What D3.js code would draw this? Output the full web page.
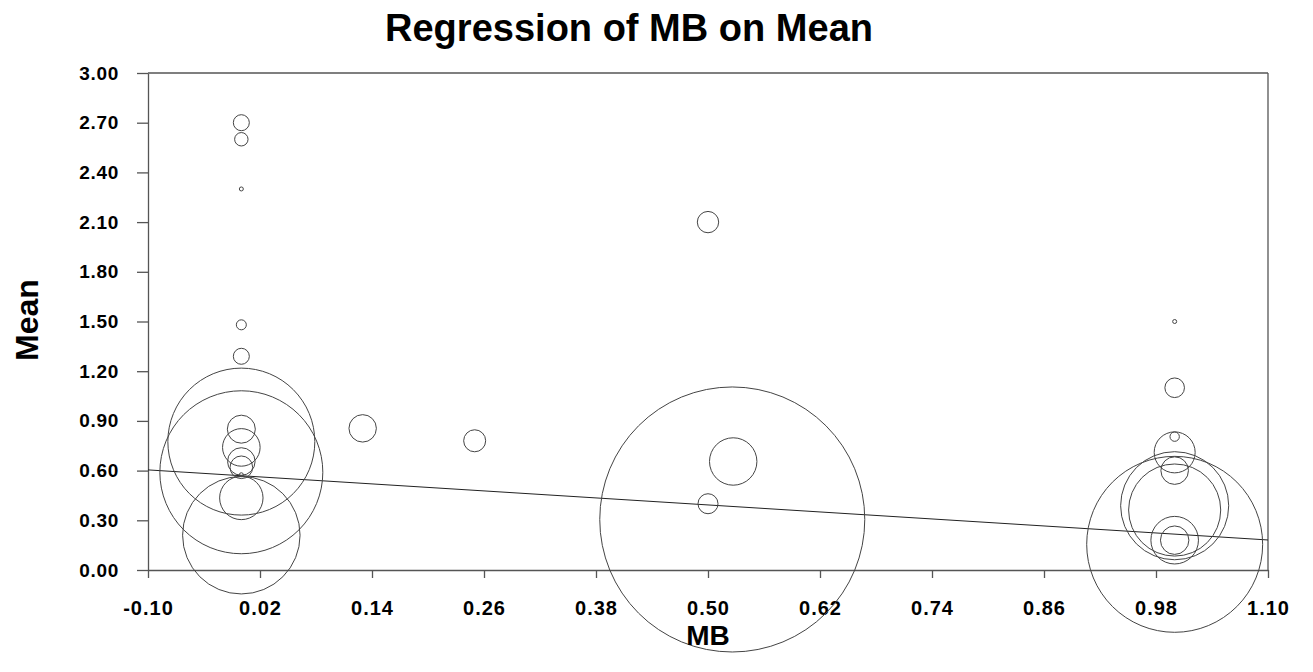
<!DOCTYPE html>
<html>
<head>
<meta charset="utf-8">
<script src="https://cdn.jsdelivr.net/npm/d3@7"></script>
<style>
  body { margin: 0; background: #fff; }
  text { font-family: "Liberation Sans", Arial, sans-serif; font-weight: bold; fill: #000; }
</style>
</head>
<body>
<script>
var svgWidth = 1313;
var svgHeight = 672;

var margin = { top: 73, right: 45, bottom: 102, left: 148 };
var width = svgWidth - margin.left - margin.right;
var height = svgHeight - margin.top - margin.bottom;

// data
var mbValues = [0.00, 0.00, 0.00, 0.00, 0.00, 0.00, 0.00, 0.00, 0.00, 0.00,
  0.00, 0.00, 0.00, 0.00, 0.13, 0.25, 0.50, 0.50, 0.527, 0.526,
  1.00, 1.00, 1.00, 1.00, 1.00, 1.00, 1.00, 1.00, 1.00, 1.00];
var meanValues = [2.70, 2.60, 2.30, 1.48, 1.29, 0.775, 0.59, 0.21, 0.85, 0.74,
  0.655, 0.62, 0.435, 0.575, 0.855, 0.78, 2.10, 0.40, 0.655, 0.305,
  1.50, 1.10, 0.805, 0.71, 0.60, 0.388, 0.362, 0.18, 0.18, 0.155];
var weights = [0.64, 0.45, 0.04, 0.25, 0.64, 54.0, 66.4, 34.5, 1.96, 3.53,
  1.90, 1.28, 4.71, 0.04, 1.88, 1.21, 1.14, 1.00, 5.62, 175.6,
  0.04, 0.96, 0.22, 4.20, 1.90, 29.2, 21.2, 5.66, 2.02, 77.4];

var xTicks = [-0.10, 0.02, 0.14, 0.26, 0.38, 0.50, 0.62, 0.74, 0.86, 0.98, 1.10];
var yTicks = [0.00, 0.30, 0.60, 0.90, 1.20, 1.50, 1.80, 2.10, 2.40, 2.70, 3.00];

// fitted line: Mean = a + b * MB
var intercept = 0.569;
var slope = -0.3525;

var points = mbValues.map(function(d, i) {
  return { mb: d, mean: meanValues[i], w: weights[i] };
});

var svg = d3.select("body")
  .append("svg")
  .attr("width", svgWidth)
  .attr("height", svgHeight);

var chartGroup = svg.append("g")
  .attr("transform", `translate(${margin.left}, ${margin.top})`);

var xScale = d3.scaleLinear().domain([-0.10, 1.10]).range([0, width]);
var yScale = d3.scaleLinear().domain([0, 3.00]).range([height, 0]);
var rScale = d3.scaleSqrt().domain([0, 1]).range([0, 10]);

// plain hyphen for negatives, like the original
var fmt = d => d.toFixed(2);

// frame (top and right)
chartGroup.append("line")
  .attr("x1", 0).attr("x2", width).attr("y1", 0).attr("y2", 0)
  .attr("stroke", "#555").attr("stroke-width", 1.3);
chartGroup.append("line")
  .attr("x1", width).attr("x2", width).attr("y1", 0).attr("y2", height)
  .attr("stroke", "#555").attr("stroke-width", 1.3);

// axes
var bottomAxis = d3.axisBottom(xScale)
  .tickValues(xTicks)
  .tickFormat(fmt)
  .tickSize(8)
  .tickSizeOuter(0)
  .tickPadding(23);

var leftAxis = d3.axisLeft(yScale)
  .tickValues(yTicks)
  .tickFormat(fmt)
  .tickSize(11)
  .tickSizeOuter(0)
  .tickPadding(18);

var xAxis = chartGroup.append("g")
  .attr("transform", `translate(0, ${height})`)
  .call(bottomAxis);

var yAxis = chartGroup.append("g")
  .call(leftAxis);

[xAxis, yAxis].forEach(function(ax) {
  ax.selectAll("path, line").attr("stroke", "#555").attr("stroke-width", 1.3);
});
xAxis.selectAll("text")
  .attr("font-size", "20px")
  .attr("letter-spacing", "1px")
  .attr("fill", "#000");
yAxis.selectAll("text")
  .attr("font-size", "19px")
  .attr("letter-spacing", "0.7px")
  .attr("fill", "#000");

// regression line
chartGroup.append("line")
  .attr("x1", xScale(-0.10))
  .attr("y1", yScale(intercept + slope * -0.10))
  .attr("x2", xScale(1.10))
  .attr("y2", yScale(intercept + slope * 1.10))
  .attr("stroke", "#222")
  .attr("stroke-width", 1);

// bubbles
chartGroup.selectAll("circle")
  .data(points)
  .enter()
  .append("circle")
  .attr("cx", d => xScale(d.mb))
  .attr("cy", d => yScale(d.mean))
  .attr("r", d => rScale(d.w))
  .attr("fill", "none")
  .attr("stroke", "#444")
  .attr("stroke-width", 1);

// title and axis labels
svg.append("text")
  .attr("x", 629)
  .attr("y", 41)
  .attr("text-anchor", "middle")
  .attr("font-size", "39px")
  .attr("textLength", 488)
  .attr("lengthAdjust", "spacingAndGlyphs")
  .text("Regression of MB on Mean");

svg.append("text")
  .attr("transform", "translate(38, 320) rotate(-90)")
  .attr("text-anchor", "middle")
  .attr("font-size", "32px")
  .text("Mean");

svg.append("text")
  .attr("x", margin.left + width / 2)
  .attr("y", 645)
  .attr("text-anchor", "middle")
  .attr("font-size", "28px")
  .text("MB");
</script>
</body>
</html>
